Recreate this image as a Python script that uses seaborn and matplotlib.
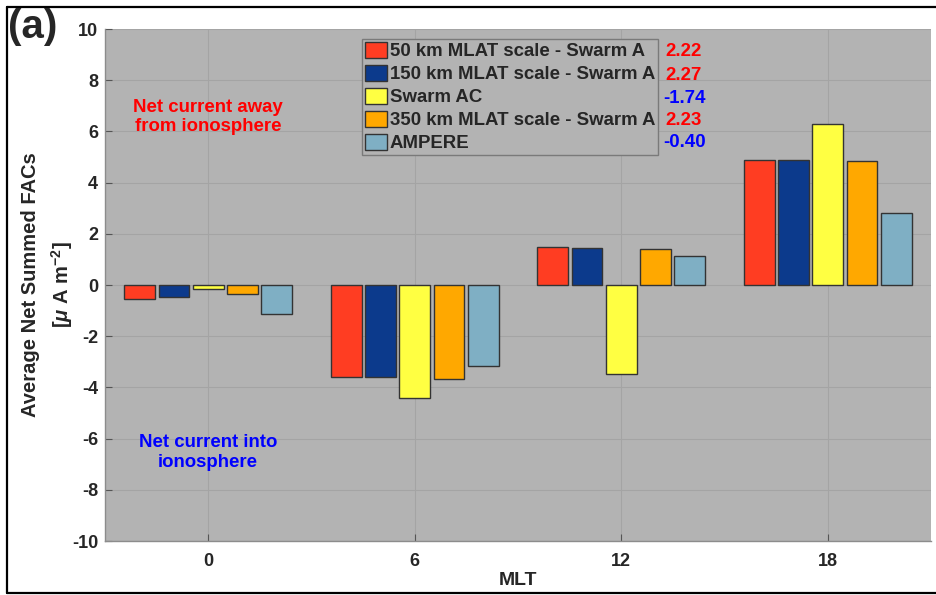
import matplotlib
matplotlib.use("Agg")
import matplotlib.pyplot as plt
import matplotlib.patches as mpatches
from matplotlib.lines import Line2D
import numpy as np
import pandas as pd
import seaborn as sns

# Magnetic local time sectors and datasets
mlt = ["0", "6", "12", "18"]
datasets = ["50 km MLAT scale - Swarm A", "150 km MLAT scale - Swarm A",
            "Swarm AC", "350 km MLAT scale - Swarm A", "AMPERE"]

# Average net summed FACs per MLT sector [uA m^-2]
scale50 = [-0.56, -3.60, 1.50, 4.88]
scale150 = [-0.46, -3.60, 1.46, 4.87]
swarm_ac = [-0.16, -4.40, -3.47, 6.29]
scale350 = [-0.36, -3.68, 1.42, 4.85]
ampere = [-1.15, -3.18, 1.13, 2.80]

colors = ["#FF3D22", "#0C3A8C", "#FFFF42", "#FFA800", "#7FAFC4"]
bg = "#B3B3B3"

values = [scale50, scale150, swarm_ac, scale350, ampere]
df = pd.DataFrame({
    "MLT": np.tile(mlt, len(datasets)),
    "Dataset": np.repeat(datasets, len(mlt)),
    "FAC": np.concatenate(values),
})

sns.set_style("ticks")
plt.rcParams["font.family"] = ["Liberation Sans", "DejaVu Sans"]
plt.rcParams["font.weight"] = "bold"
plt.rcParams["axes.unicode_minus"] = False
plt.rcParams["mathtext.fontset"] = "custom"
plt.rcParams["mathtext.rm"] = "Liberation Sans:bold"
plt.rcParams["mathtext.bf"] = "Liberation Sans:bold"
plt.rcParams["mathtext.it"] = "Liberation Sans:italic"

W, H = 937, 595
fig = plt.figure(figsize=(W / 100, H / 100), dpi=100)
ax = fig.add_axes([105 / W, 1 - 541 / H, (931 - 105) / W, (541 - 29) / H])
ax.set_facecolor(bg)

sns.barplot(data=df, x="MLT", y="FAC", hue="Dataset", order=mlt,
            hue_order=datasets, palette=colors, saturation=1,
            width=0.83, gap=0.1, edgecolor="#333333", linewidth=1.0,
            errorbar=None, legend=False, ax=ax, zorder=3)

ax.set_xlim(-0.5, 3.5)
ax.set_ylim(-10, 10)
ax.set_yticks(np.arange(-10, 11, 2))
ax.grid(True, color="#A4A4A4", linewidth=0.8, zorder=0)
ax.set_axisbelow(True)

for s in ("top", "right"):
    ax.spines[s].set_visible(False)
for s in ("left", "bottom"):
    ax.spines[s].set_color("#8C8C8C")
    ax.spines[s].set_linewidth(1.0)
ax.tick_params(direction="in", length=5, width=0.8, color="#555555",
               labelsize=13, pad=5)
ax.tick_params(axis="x", pad=9)
for lab in ax.get_xticklabels() + ax.get_yticklabels():
    lab.set_fontweight("bold")

ax.set_xlabel("MLT", fontsize=14, fontweight="bold", labelpad=1)
ax.set_ylabel("Average Net Summed FACs\n[$\\mathit{\\mu}$ A m$^{-2}$]",
              fontsize=14.5, fontweight="bold", ha="center", va="center",
              linespacing=1.5)
ax.yaxis.set_label_coords((48 - 105) / 826, 0.5)

# Region annotations
ax.text(0, 6.56, "Net current away\nfrom ionosphere", color="#FF0000",
        fontsize=13.4, fontweight="bold", ha="center", va="center",
        linespacing=1.2, zorder=5)
ax.text(0, -6.54, "Net current into\nionosphere", color="#0000FF",
        fontsize=13.4, fontweight="bold", ha="center", va="center",
        linespacing=1.2, zorder=5)

# Legend with dataset colours
handles = [mpatches.Patch(facecolor=c, edgecolor="#333333", linewidth=1.0)
           for c in colors]
leg = ax.legend(handles, datasets, loc="upper left",
                bbox_to_anchor=(362 / W, 1 - 39 / H),
                bbox_transform=fig.transFigure, frameon=True, fancybox=False,
                edgecolor="#7A7A7A", facecolor=bg, framealpha=1,
                handlelength=1.2, handleheight=1.0, handletextpad=0.15,
                labelspacing=0.23, borderpad=0.15, borderaxespad=0,
                prop={"weight": "bold", "size": 13.4})
leg.get_frame().set_linewidth(1.0)
leg.set_zorder(6)

# Net total per dataset, printed beside the legend entries
row_y = [51.7, 75.0, 98.3, 120.7, 142.7]
for vals, yy in zip(values, row_y):
    total = round(sum(vals), 2)
    col = "#FF0000" if total > 0 else "#0000FF"
    xx = 665 if total > 0 else 663
    fig.text(xx / W, 1 - yy / H, f"{total:.2f}", color=col, fontsize=13.4,
             fontweight="bold", ha="left", va="center", zorder=7)

# Panel label
fig.text(8 / W, 1 - 38.5 / H, "(a)", fontsize=29, fontweight="bold",
         ha="left", va="baseline")

# Figure frame
lw = 1.6
fig.add_artist(Line2D([7 / W, 1], [1 - 7 / H, 1 - 7 / H], color="black",
                      linewidth=lw, transform=fig.transFigure))
fig.add_artist(Line2D([7 / W, 1], [2 / H, 2 / H], color="black",
                      linewidth=lw, transform=fig.transFigure))
fig.add_artist(Line2D([7 / W, 7 / W], [2 / H, 1 - 7 / H], color="black",
                      linewidth=lw, transform=fig.transFigure))

fig.savefig("out.png", dpi=100, facecolor="white")
